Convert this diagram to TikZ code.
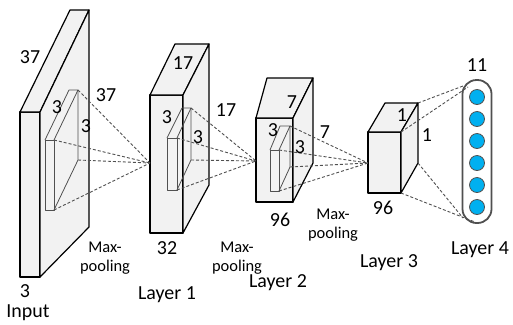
\documentclass[tikz,border=0pt]{standalone}
\usepackage{fontspec}
\setmainfont{Carlito}
\usepackage{tikz}
\usetikzlibrary{calc, positioning}
\definecolor{faceg}{HTML}{F2F2F2}
\definecolor{unitblue}{HTML}{00B0F0}
\definecolor{linegray}{HTML}{505050}

% block: name, x1, x2, y1, y2 (front face), bx1, bx2, by1, by2 (back face)
\newcommand{\convblock}[9]{%
	\filldraw[blockface] (#2,#4) rectangle (#3,#5);
	\filldraw[blockface] (#2,#4) -- (#6,#8) -- (#7,#8) -- (#3,#4) -- cycle;
	\filldraw[blockface] (#3,#4) -- (#7,#8) -- (#7,#9) -- (#3,#5) -- cycle;
	\coordinate (#1-ftr) at (#3,#4);
	\coordinate (#1-fbr) at (#3,#5);
	\coordinate (#1-btr) at (#7,#8);
	\coordinate (#1-bbr) at (#7,#9);
}
\newcommand{\kernelbox}[9]{%
	\draw[kernel] (#2,#4) rectangle (#3,#5);
	\draw[kernel] (#2,#4) -- (#6,#8) -- (#7,#8) -- (#3,#4);
	\draw[kernel] (#7,#8) -- (#7,#9) -- (#3,#5);
	\coordinate (#1-ftr) at (#3,#4);
	\coordinate (#1-fbr) at (#3,#5);
	\coordinate (#1-btr) at (#7,#8);
	\coordinate (#1-bbr) at (#7,#9);
}

\begin{document}
\begin{tikzpicture}
		[x=1bp, y=-1bp,
		blockface/.style={draw=black, fill=faceg, line width=1.2bp, line join=round},
		kernel/.style={draw=linegray, line width=0.8bp, line join=round},
		conn/.style={draw=linegray, line width=0.9bp, dash pattern=on 3bp off 2bp},
		lbl/.style={font=\fontsize{20}{22}\selectfont, inner sep=0pt},
		pool/.style={font=\fontsize{16.5}{19}\selectfont, align=center, inner sep=0pt},
		unit/.style={circle, draw=linegray, fill=unitblue, line width=0.8bp, minimum size=15bp, inner sep=0pt}]
		\useasboundingbox (0,0) rectangle (513,324);

		% blocks %
		\convblock{in}{20}{40}{112}{277}{70}{89}{10}{227}
		\convblock{l1}{150}{183}{95}{233}{175}{209}{44}{185}
		\convblock{l2}{256}{293}{118}{202}{267}{313}{78}{163}
		\convblock{l3}{368}{401}{132}{193}{385}{418}{103}{163}

		% kernels %
		\kernelbox{k0}{45}{54}{140}{210}{69}{78}{90}{160}
		\kernelbox{k1}{167}{177}{138}{190}{182}{191}{108}{160}
		\kernelbox{k2}{270}{279}{150}{191}{280}{290}{126}{167}

		% output layer %
		\node[draw=linegray, line width=1.8bp, rounded corners=14bp, minimum width=29bp, minimum height=143bp, inner sep=0pt] (capsule) at (477,151.5) {};
		\foreach \i/\y in {1/97, 2/119, 3/141, 4/163, 5/185, 6/207}
			\node[unit] (u\i) at (477,\y) {};

		% targets %
		\coordinate (t1) at (150,163);
		\coordinate (t2) at (256,161);
		\coordinate (t3) at (368,163);
		\coordinate (c1) at (463,86);
		\coordinate (c2) at (468,87);
		\coordinate (c3) at (463,218);
		\coordinate (c4) at (475,222);

		% edges %
		\foreach \k/\t in {k0/t1, k1/t2, k2/t3}
			\foreach \p in {ftr, fbr, btr, bbr}
				\draw[conn] (\k-\p) -- (\t);
		\draw[conn] (l3-btr) -- (c1);
		\draw[conn] (l3-ftr) -- (c2);
		\draw[conn] (l3-bbr) -- (c3);
		\draw[conn] (l3-fbr) -- (c4);

		% labels %
		\node[lbl] (in-d1) at (30,57) {37};
		\node[lbl] (in-d2) at (106,95) {37};
		\node[lbl] (in-k1) at (57,107) {3};
		\node[lbl] (in-k2) at (86,126) {3};
		\node[lbl] (in-c) at (25,291) {3};
		\node[lbl] (in-name) at (28,313) {Input};
		\node[pool] (pool1) at (105,258) {Max-\\pooling};

		\node[lbl] (l1-d1) at (183,63) {17};
		\node[lbl] (l1-d2) at (226,110) {17};
		\node[lbl] (l1-k1) at (167,117) {3};
		\node[lbl] (l1-k2) at (198,137) {3};
		\node[lbl] (l1-c) at (167,248) {32};
		\node[lbl] (l1-name) at (167,295) {Layer 1};
		\node[pool] (pool2) at (237,258) {Max-\\pooling};

		\node[lbl] (l2-d1) at (292,102) {7};
		\node[lbl] (l2-d2) at (325,132) {7};
		\node[lbl] (l2-k1) at (273,130) {3};
		\node[lbl] (l2-k2) at (300,147) {3};
		\node[lbl] (l2-c) at (280,220) {96};
		\node[lbl] (l2-name) at (278,283) {Layer 2};
		\node[pool] (pool3) at (333,225) {Max-\\pooling};

		\node[lbl] (l3-d1) at (402,115) {1};
		\node[lbl] (l3-d2) at (427,135) {1};
		\node[lbl] (l3-c) at (383,208) {96};
		\node[lbl] (l3-name) at (389,263) {Layer 3};

		\node[lbl] (l4-n) at (477,65) {11};
		\node[lbl] (l4-name) at (480,250) {Layer 4};
		\end{tikzpicture}
\end{document}
